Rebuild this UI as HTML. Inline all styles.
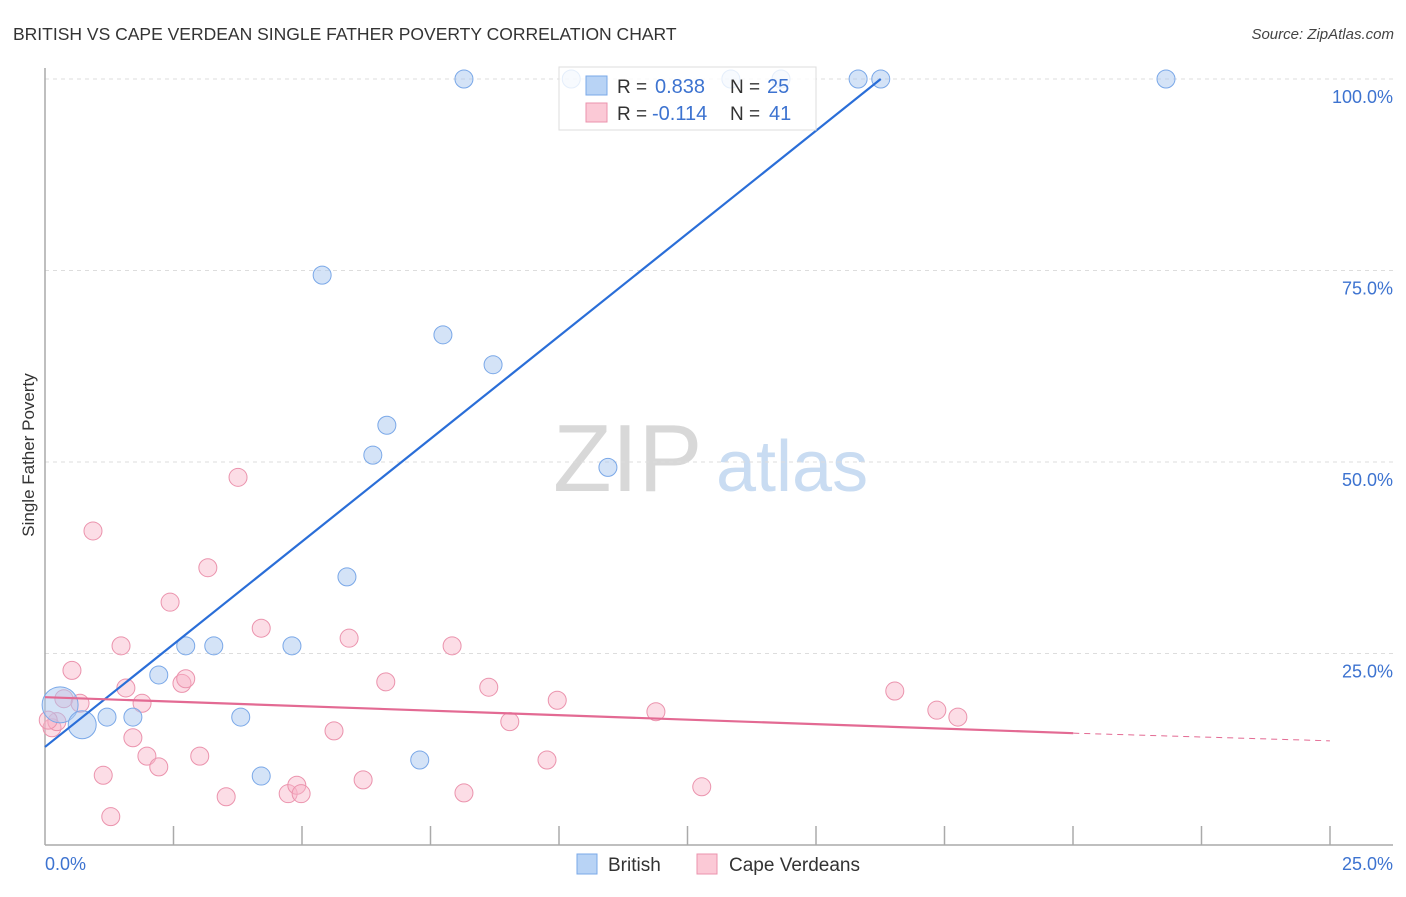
<!DOCTYPE html>
<html><head><meta charset="utf-8"><style>
body{margin:0;background:#fff;font-family:"Liberation Sans",sans-serif;}
svg text{font-family:"Liberation Sans",sans-serif;}
</style></head><body>
<svg id="chart" width="1406" height="892" viewBox="0 0 1406 892" xmlns="http://www.w3.org/2000/svg">
<text x="13" y="40" font-size="17.5" fill="#333">BRITISH VS CAPE VERDEAN SINGLE FATHER POVERTY CORRELATION CHART</text>
<text x="1394" y="39" font-size="15" fill="#444" text-anchor="end" font-style="italic">Source: ZipAtlas.com</text>
<g>
<text x="553" y="491" font-size="96" fill="#d8d8d8" font-family="Liberation Serif, serif">ZIP</text>
<text x="716" y="491" font-size="72" fill="#c9dcf2">atlas</text>
</g>
<g id="grid"></g>
<g id="axes"></g>
<g id="marks"></g>
<text transform="translate(34,455) rotate(-90)" font-size="17" fill="#333" text-anchor="middle">Single Father Poverty</text>
<g>
<rect x="559" y="67" width="257" height="63" fill="rgba(255,255,255,0.8)" stroke="#ddd"/>
<rect x="586" y="76" width="21" height="19" fill="#b8d3f5" stroke="#7aa8e8"/>
<text x="617" y="93" font-size="19" fill="#333">R = </text><text x="655" y="93" font-size="20" fill="#3d73d0">0.838</text>
<text x="730" y="93" font-size="19" fill="#333">N = </text><text x="767" y="93" font-size="20" fill="#3d73d0">25</text>
<rect x="586" y="103" width="21" height="19" fill="#fbc9d6" stroke="#eb93ad"/>
<text x="617" y="120" font-size="19" fill="#333">R = </text><text x="652" y="120" font-size="20" fill="#3d73d0">-0.114</text>
<text x="730" y="120" font-size="19" fill="#333">N = </text><text x="769" y="120" font-size="20" fill="#3d73d0">41</text>
</g>
<g>
<rect x="577" y="854" width="20" height="20" fill="#b8d3f5" stroke="#7aa8e8"/>
<text x="608" y="871" font-size="19" fill="#333">British</text>
<rect x="697" y="854" width="20" height="20" fill="#fbc9d6" stroke="#eb93ad"/>
<text x="729" y="871" font-size="19" fill="#333">Cape Verdeans</text>
</g>
</svg>
<script>
const britishX=[0.28,0.69,1.15,1.63,2.11,2.61,3.13,3.63,4.01,4.58,5.14,5.60,6.08,6.34,6.95,7.38,8.31,10.44,7.77,9.76,12.72,13.65,15.08,15.50,20.79];
const britishY=[18.3,15.7,16.7,16.7,22.2,26.0,26.0,16.7,9.0,26.0,74.4,35.0,50.9,54.8,11.1,66.6,62.7,49.3,100,100,100,100,100,100,100];
const britishSize=[18,14,9,9,9,9,9,9,9,9,9,9,9,9,9,9,9,9,9,9,9,9,9,9,9];
const capeX=[0.13,0.22,0.35,0.50,0.65,0.89,1.08,1.22,1.41,1.50,1.63,1.80,1.89,2.11,2.32,2.54,2.61,2.87,3.02,3.36,3.58,4.01,4.51,4.67,4.75,5.36,5.64,5.90,6.32,7.55,7.77,8.23,8.62,9.31,9.50,11.33,12.18,15.76,16.54,16.93,0.06];
const capeY=[15.3,16.1,19.1,22.8,18.5,41.0,9.1,3.7,26.0,20.5,14.0,18.5,11.6,10.2,31.7,21.1,21.7,11.6,36.2,6.3,48.0,28.3,6.7,7.8,6.7,14.9,27.0,8.5,21.3,26.0,6.8,20.6,16.1,11.1,18.9,17.4,7.6,20.1,17.6,16.7,16.3];
const britishTrend=[[0,12.8],[15.5,100]];
const capeTrend=[[0,19.3],[19.07,14.6]];
const capeTrendExt=[[19.07,14.6],[23.83,13.6]];
const yTicks=[25,50,75,100];
const yTickLabels=["25.0%","50.0%","75.0%","100.0%"];
const xTickCount=11;
const xLabels=["0.0%","25.0%"];

const NS="http://www.w3.org/2000/svg";
const X=v=>45+v/25*1348;
const Y=v=>845-v/100*766;
function mk(tag,attrs,parent){const e=document.createElementNS(NS,tag);for(const k in attrs)e.setAttribute(k,attrs[k]);parent.appendChild(e);return e;}
const grid=document.getElementById('grid'),axes=document.getElementById('axes'),marks=document.getElementById('marks');
yTicks.forEach((t,i)=>{
 const l=mk('line',{x1:45,x2:1393,y1:Y(t),y2:Y(t),stroke:'#ddd','stroke-dasharray':'4,4'},grid);
 
 
 const tx=mk('text',{x:1393,y:Y(t)+24,'font-size':18,fill:'#3d73d0','text-anchor':'end'},axes);
 tx.textContent=yTickLabels[i];
 
 
});
const ax=mk('line',{x1:45,x2:45,y1:68,y2:845,stroke:'#aaa','stroke-width':1.5},axes);


const bx=mk('line',{x1:45,x2:1393,y1:845,y2:845,stroke:'#aaa','stroke-width':1.5},axes);


for(let i=1;i<xTickCount;i++){
 const px=45+i*128.5;
 const t=mk('line',{x1:px,x2:px,y1:826,y2:845,stroke:'#aaa','stroke-width':1.5},axes);
 
 
}
const xl0=mk('text',{x:45,y:870,'font-size':18,fill:'#3d73d0'},axes);xl0.textContent=xLabels[0];


const xl1=mk('text',{x:1393,y:870,'font-size':18,fill:'#3d73d0','text-anchor':'end'},axes);xl1.textContent=xLabels[1];



capeX.forEach((x,i)=>{
 const c=mk('circle',{cx:X(x),cy:Y(capeY[i]),r:9,fill:'rgba(248,180,200,0.45)',stroke:'#eb93ad','stroke-width':1},marks);
 
 
});
britishX.forEach((x,i)=>{
 const c=mk('circle',{cx:X(x),cy:Y(britishY[i]),r:britishSize[i],fill:'rgba(170,200,240,0.5)',stroke:'#7aa8e8','stroke-width':1},marks);
 
 
});
const bl=mk('line',{x1:X(britishTrend[0][0]),y1:Y(britishTrend[0][1]),x2:X(britishTrend[1][0]),y2:Y(britishTrend[1][1]),stroke:'#2a6ed8','stroke-width':2.2},marks);


const cl=mk('line',{x1:X(capeTrend[0][0]),y1:Y(capeTrend[0][1]),x2:X(capeTrend[1][0]),y2:Y(capeTrend[1][1]),stroke:'#e36a93','stroke-width':2.2},marks);


const ce=mk('line',{x1:X(capeTrendExt[0][0]),y1:Y(capeTrendExt[0][1]),x2:X(capeTrendExt[1][0]),y2:Y(capeTrendExt[1][1]),stroke:'#e36a93','stroke-width':1,'stroke-dasharray':'6,5'},marks);


</script>
</body></html>
